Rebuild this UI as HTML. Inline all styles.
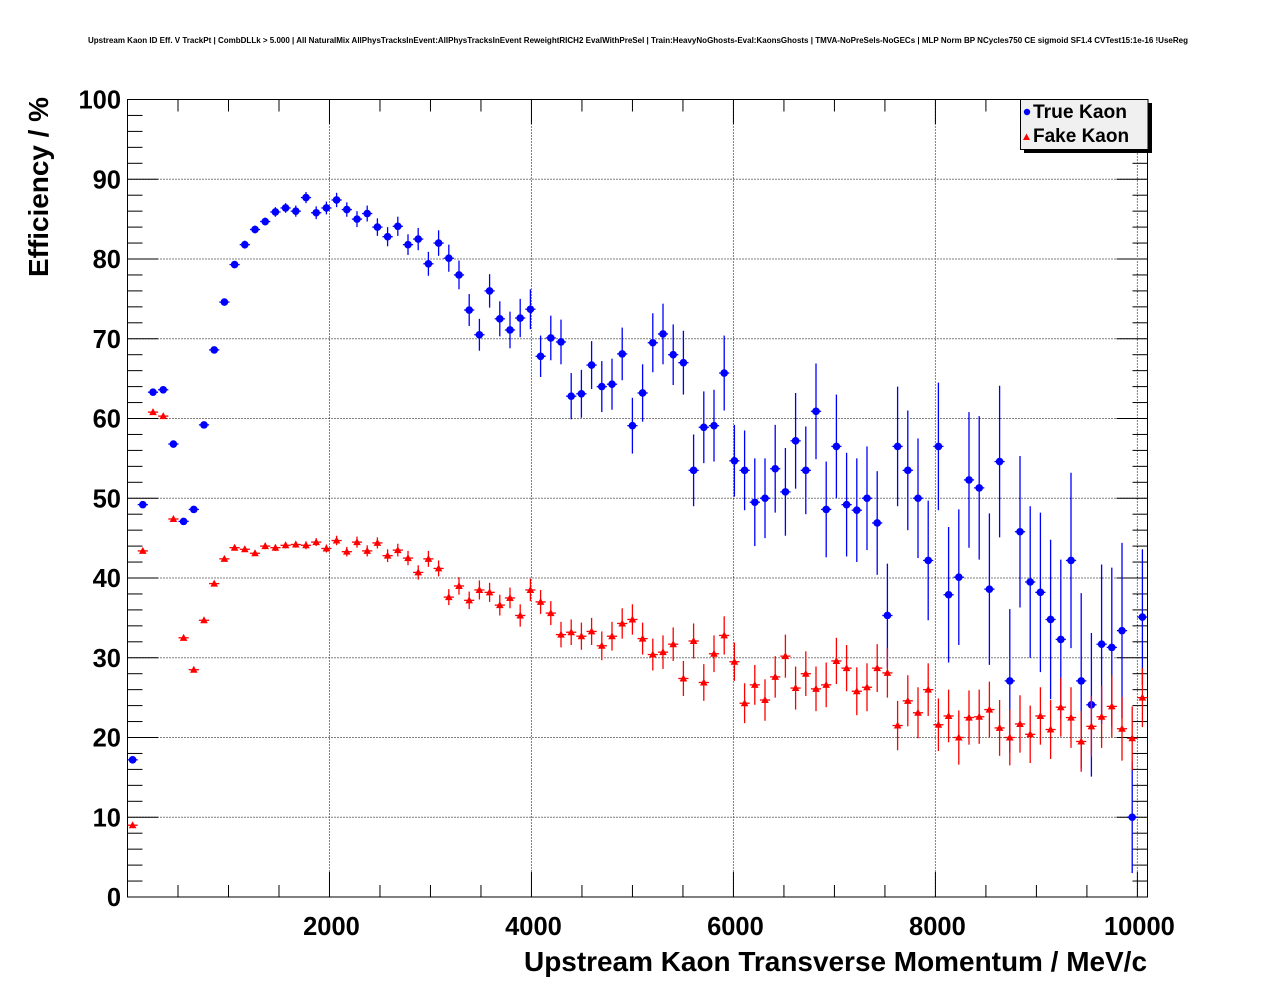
<!DOCTYPE html>
<html><head><meta charset="utf-8"><style>
html,body{margin:0;padding:0;background:#fff;}
svg{display:block;font-family:"Liberation Sans",Arial,sans-serif;}
</style></head><body>
<svg id="chart" width="1276" height="996" viewBox="0 0 1276 996" xmlns="http://www.w3.org/2000/svg">
<rect x="0" y="0" width="1276" height="996" fill="#fff"/>
<text x="638" y="43" text-anchor="middle" font-size="8" font-weight="bold" textLength="1100" lengthAdjust="spacingAndGlyphs">Upstream Kaon ID Eff. V TrackPt | CombDLLk &gt; 5.000 | All NaturalMix AllPhysTracksInEvent:AllPhysTracksInEvent ReweightRICH2 EvalWithPreSel | Train:HeavyNoGhosts-Eval:KaonsGhosts | TMVA-NoPreSels-NoGECs | MLP Norm BP NCycles750 CE sigmoid SF1.4 CVTest15:1e-16 !UseReg</text>
<g id="grid"></g>
<g id="axes"></g>
<g id="series"></g>
<text x="524" y="971" font-size="28" font-weight="bold" textLength="623" lengthAdjust="spacingAndGlyphs">Upstream Kaon Transverse Momentum / MeV/c</text>
<text transform="translate(48,277) rotate(-90)" font-size="28" font-weight="bold" textLength="180" lengthAdjust="spacingAndGlyphs">Efficiency / %</text>
<g>
<rect x="1024" y="103" width="128" height="50" fill="#000"/>
<rect x="1020.5" y="99.5" width="127.5" height="50" fill="#f0f0f0" stroke="#000" stroke-width="1"/>
<g>
<circle cx="1027" cy="112" r="3.2" fill="#0000ff"/>
<text x="1033" y="118" font-size="19" font-weight="bold" textLength="94" lengthAdjust="spacingAndGlyphs">True Kaon</text>
</g>
<g>
<polygon points="1023,140 1030,140 1026.5,133.5" fill="#ff0000"/>
<text x="1033" y="142" font-size="19" font-weight="bold">Fake Kaon</text>
</g>
</g>
</svg>
<script>
const binWidth = 101;
const trueKaon = [17.2,49.2,63.3,63.6,56.8,47.1,48.6,59.2,68.6,74.6,
79.3,81.8,83.7,84.7,85.9,86.4,86.0,87.7,85.8,86.4,
87.4,86.2,85.0,85.7,84.0,82.8,84.1,81.8,82.5,79.4,
82.0,80.1,78.0,73.6,70.5,76.0,72.5,71.1,72.6,73.7,
67.8,70.1,69.6,62.8,63.1,66.7,64.0,64.3,68.1,59.1,
63.2,69.5,70.6,68.0,67.0,53.5,58.9,59.1,65.7,54.7,
53.5,49.5,50.0,53.7,50.8,57.2,53.5,60.9,48.6,56.5,
49.2,48.5,50.0,46.9,35.3,56.5,53.5,50.0,42.2,56.5,
37.9,40.1,52.3,51.3,38.6,54.6,27.1,45.8,39.5,38.2,
34.8,32.3,42.2,27.1,24.1,31.7,31.3,33.4,10.0,35.1];
const trueKaonErr = [0.3,0.4,0.4,0.4,0.4,0.4,0.4,0.4,0.4,0.4,
0.4,0.5,0.5,0.5,0.6,0.6,0.7,0.7,0.8,0.8,
0.9,0.9,1.0,1.0,1.1,1.2,1.2,1.3,1.4,1.5,
1.6,1.7,1.8,2.0,2.0,2.1,2.2,2.3,2.4,2.5,
2.6,2.8,2.8,2.9,3.0,3.0,3.2,3.2,3.3,3.5,
3.6,3.7,3.8,3.8,4.0,4.5,4.5,4.5,4.7,4.5,
5.0,5.5,5.0,5.5,5.5,6.0,5.5,6.0,6.0,6.5,
6.5,6.5,6.5,6.5,6.5,7.5,7.5,7.5,7.5,8.0,
8.5,8.5,8.5,9.0,9.5,9.5,9.0,9.5,9.5,10.0,
10,10,11,11,9,10,10,11,7,8.5];
const fakeKaon = [9.0,43.4,60.8,60.3,47.4,32.5,28.5,34.7,39.3,42.4,
43.8,43.6,43.1,44.0,43.8,44.1,44.2,44.1,44.5,43.7,
44.7,43.3,44.5,43.4,44.4,42.8,43.5,42.5,40.7,42.4,
41.2,37.6,39.0,37.2,38.5,38.2,36.6,37.5,35.3,38.5,
37.0,35.6,32.9,33.2,32.7,33.3,31.5,32.7,34.3,34.8,
32.4,30.4,30.7,31.7,27.4,32.1,26.9,30.5,32.8,29.5,
24.3,26.6,24.7,27.6,30.2,26.2,28.0,26.1,26.6,29.6,
28.7,25.8,26.3,28.7,28.1,21.5,24.6,23.1,26.0,21.6,
22.7,20.0,22.5,22.6,23.5,21.2,20.0,21.7,20.4,22.7,
21.0,23.8,22.5,19.5,21.4,22.6,23.9,21.1,19.9,25.0];
const fakeKaonErr = [0.2,0.2,0.2,0.2,0.2,0.2,0.2,0.2,0.2,0.2,
0.3,0.3,0.3,0.4,0.4,0.4,0.4,0.5,0.5,0.5,
0.6,0.6,0.7,0.7,0.7,0.8,0.8,0.9,0.9,1.0,
1.0,1.0,1.1,1.1,1.2,1.2,1.3,1.3,1.4,1.4,
1.5,1.5,1.6,1.6,1.7,1.7,1.8,1.8,1.9,1.9,
2.0,2.0,2.1,2.1,2.2,2.2,2.3,2.3,2.4,2.4,
2.5,2.5,2.6,2.6,2.7,2.7,2.8,2.8,2.8,2.9,
2.9,3.0,3.0,3.0,3.1,3.1,3.2,3.2,3.3,3.3,
3.3,3.4,3.4,3.4,3.5,3.5,3.5,3.6,3.6,3.6,
3.7,3.7,3.8,3.8,3.8,3.9,3.9,4.0,4.0,3.7];
const xTickLabels = [2000,4000,6000,8000,10000];
const yTickLabels = [0,10,20,30,40,50,60,70,80,90,100];

const NS = "http://www.w3.org/2000/svg";
const L = 127.5, R = 1147.5, T = 99.5, B = 897;
const xMin = 0, xMax = 10100, yMin = 0, yMax = 100;
function xs(v){ return L + (v - xMin) / (xMax - xMin) * (R - L); }
function ys(v){ return B - (v - yMin) / (yMax - yMin) * (B - T); }
function mk(tag, attrs, parent){ const e = document.createElementNS(NS, tag); for (const k in attrs) e.setAttribute(k, attrs[k]); parent.appendChild(e); return e; }

const grid = document.getElementById('grid');
const axes = document.getElementById('axes');
const series = document.getElementById('series');

xTickLabels.forEach(v => {
  const g = mk('line', {x1: xs(v), x2: xs(v), y1: T, y2: B, stroke: '#000', 'stroke-width': 1, 'stroke-dasharray': '1,2'}, grid);
  
  
});
yTickLabels.forEach(v => {
  if (v === 0 || v === 100) return;
  const g = mk('line', {x1: L, x2: R, y1: ys(v), y2: ys(v), stroke: '#000', 'stroke-width': 1, 'stroke-dasharray': '1,2'}, grid);
  
  
});

const frame = mk('rect', {x: L, y: T, width: R - L, height: B - T, fill: 'none', stroke: '#000', 'stroke-width': 1}, axes);



for (let v = 0; v <= 100; v += 2) {
  const major = v % 10 === 0;
  const len = major ? 31 : 15;
  mk('line', {x1: L, x2: L + len, y1: ys(v), y2: ys(v), stroke: '#000', 'stroke-width': 1}, axes);
  mk('line', {x1: R, x2: R - len, y1: ys(v), y2: ys(v), stroke: '#000', 'stroke-width': 1}, axes);
}
yTickLabels.forEach(v => {
  const t = mk('text', {x: 121, y: ys(v) + 9, 'text-anchor': 'end', 'font-size': 25.5, 'font-weight': 'bold'}, axes);
  t.textContent = v;
  
  
});
for (let v = 500; v <= 10000; v += 500) {
  const major = v % 2000 === 0;
  const len = major ? 25 : 12;
  mk('line', {x1: xs(v), x2: xs(v), y1: B, y2: B - len, stroke: '#000', 'stroke-width': 1}, axes);
  mk('line', {x1: xs(v), x2: xs(v), y1: T, y2: T + len, stroke: '#000', 'stroke-width': 1}, axes);
}
xTickLabels.forEach(v => {
  const t = mk('text', {x: xs(v) + 2, y: 935, 'text-anchor': 'middle', 'font-size': 25.5, 'font-weight': 'bold'}, axes);
  t.textContent = v;
  
  
});

function drawSeries(vals, errs, color, shape, name) {
  const g = mk('g', {}, series);
  
  
  vals.forEach((v, i) => {
    const xc = binWidth * (i + 0.5);
    const cx = xs(xc), cy = ys(v);
    const pg = mk('g', {}, g);
    
    
    mk('line', {x1: xs(xc - binWidth / 2), x2: xs(xc + binWidth / 2), y1: cy, y2: cy, stroke: color, 'stroke-width': 1.3}, pg);
    mk('line', {x1: cx, x2: cx, y1: ys(Math.max(0, v - errs[i])), y2: ys(Math.min(100, v + errs[i])), stroke: color, 'stroke-width': 1.3}, pg);
    if (shape === 'circle') {
      mk('circle', {cx: cx, cy: cy, r: 3.8, fill: color}, pg);
    } else {
      mk('polygon', {points: (cx - 3.8) + ',' + (cy + 3) + ' ' + (cx + 3.8) + ',' + (cy + 3) + ' ' + cx + ',' + (cy - 4)}, pg).setAttribute('fill', color);
    }
  });
}
drawSeries(trueKaon, trueKaonErr, '#0000ff', 'circle', 'true-kaon');
drawSeries(fakeKaon, fakeKaonErr, '#ff0000', 'triangle', 'fake-kaon');
</script>
</body></html>
